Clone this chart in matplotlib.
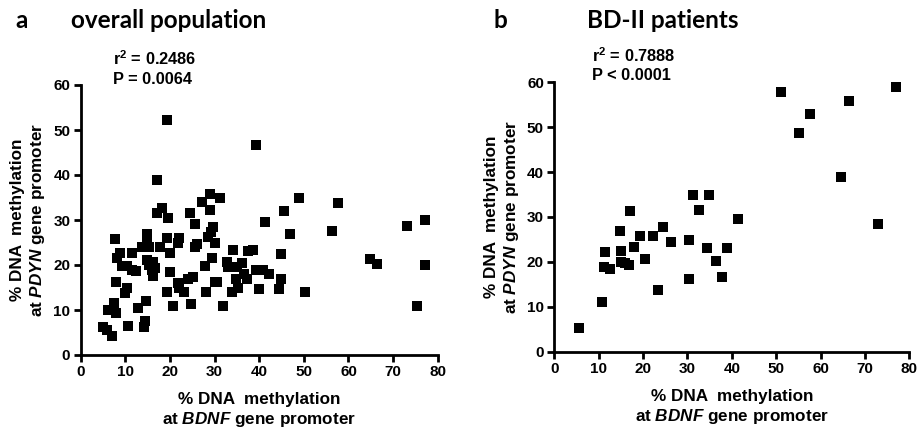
import matplotlib
matplotlib.use("Agg")
import matplotlib.pyplot as plt

plt.rcParams['font.family'] = ['Liberation Sans', 'DejaVu Sans']
plt.rcParams['mathtext.fontset'] = 'custom'
plt.rcParams['mathtext.it'] = 'Liberation Sans:bold:italic'
plt.rcParams['mathtext.bf'] = 'Liberation Sans:bold'
plt.rcParams['mathtext.rm'] = 'Liberation Sans:bold'

# Panel a: overall population (BDNF %, PDYN %)
bdnf_all = [19.3, 17.0, 18.3, 17.0, 19.6, 7.6, 14.8, 14.9, 13.8, 15.3, 17.8, 19.3, 22.1, 21.9,
            24.5, 25.6, 26.0, 25.7, 27.1, 29.0, 29.0, 31.2, 29.7, 29.3, 28.6, 30.2, 29.5, 27.8,
            30.0, 30.5, 28.1, 31.9, 8.8, 8.1, 9.2, 10.3, 11.6, 11.4, 12.4, 7.9, 10.3, 9.9, 7.5,
            6.2, 7.8, 5.1, 5.8, 7.1, 10.7, 12.9, 14.6, 14.4, 14.2, 14.9, 15.4, 16.3, 16.6, 15.9,
            16.3, 20.0, 20.0, 19.3, 20.7, 21.9, 22.1, 23.1, 24.1, 25.1, 24.7, 32.7, 33.1, 34.2,
            35.0, 36.1, 34.8, 35.3, 34.0, 36.5, 37.2, 37.4, 38.5, 39.3, 40.0,
            39.2, 48.9, 57.6, 45.6, 41.2, 47.0, 56.3, 73.1, 77.2, 44.9, 40.8, 42.1, 44.8,
            44.4, 50.2, 64.8, 66.5, 77.2, 75.3]
pdyn_all = [52.2, 39.0, 32.6, 31.6, 30.4, 25.8, 27.0, 25.2, 24.1, 24.1, 24.1, 25.9, 25.9, 24.8,
            31.6, 29.1, 24.6, 23.9, 33.9, 35.8, 32.2, 35.0, 28.5, 27.4, 26.3, 25.0, 21.5, 19.8,
            16.3, 16.3, 13.9, 10.9, 22.6, 21.5, 19.8, 19.8, 22.6, 19.0, 18.7, 16.3, 14.8, 13.7,
            11.6, 10.0, 9.3, 6.3, 5.6, 4.3, 6.5, 10.4, 11.9, 7.6, 6.3, 21.1, 20.0, 20.7, 19.3,
            18.9, 17.6, 22.6, 18.5, 13.9, 10.9, 16.1, 14.8, 13.9, 17.0, 17.3, 11.3, 20.7, 19.6,
            23.3, 19.6, 20.4, 17.0, 14.8, 13.9, 18.1, 16.8, 23.1, 23.3, 19.0, 14.6,
            46.7, 34.8, 33.7, 32.1, 29.6, 26.8, 27.6, 28.7, 29.9, 22.4, 19.0, 18.1, 17.0,
            14.7, 13.9, 21.3, 20.2, 20.1, 10.9]

# Panel b: BD-II patients
bdnf_bd2 = [5.6, 10.7, 11.5, 11.3, 12.5, 14.7, 15.1, 15.1, 16.0, 16.8, 17.0, 17.9, 19.2, 20.4,
            22.3, 23.3, 24.5, 26.2, 30.3, 30.3, 31.3, 32.6, 34.9, 34.5, 36.4, 39.0, 37.9, 41.3,
            51.1, 55.2, 57.6, 66.4, 64.6, 73.0, 77.1]
pdyn_bd2 = [5.3, 11.0, 22.2, 18.8, 18.4, 26.9, 22.4, 20.0, 19.7, 19.3, 31.4, 23.4, 25.8, 20.6,
            25.8, 13.7, 27.7, 24.4, 24.9, 16.2, 34.9, 31.6, 34.9, 23.2, 20.2, 23.2, 16.6, 29.5,
            57.9, 48.8, 52.9, 55.9, 38.9, 28.5, 58.9]

xticks = [0, 10, 20, 30, 40, 50, 60, 70, 80]
yticks = [0, 10, 20, 30, 40, 50, 60]

W, H = 921, 430
fig = plt.figure(figsize=(W / 100, H / 100), dpi=100)


def px_axes(x0, x1, y0, y1):
    return fig.add_axes([x0 / W, (H - y0) / H, (x1 - x0) / W, (y0 - y1) / H])


def style(ax, wpx, hpx):
    ax.set_xlim(0, 80)
    ax.set_ylim(0, 60)
    ax.set_xticks(xticks)
    ax.set_yticks(yticks)
    for s in ['top', 'right']:
        ax.spines[s].set_visible(False)
    for s in ['left', 'bottom']:
        ax.spines[s].set_linewidth(2.0)
    ax.tick_params(direction='out', length=5, width=2.0, labelsize=11, pad=2.5)
    for lab in ax.get_xticklabels() + ax.get_yticklabels():
        lab.set_fontweight('bold')
    ax.set_xlabel('% DNA  methylation\nat $\\mathit{BDNF}$ gene promoter', fontsize=12.3,
                  fontweight='bold', linespacing=1.22)
    ax.set_ylabel('% DNA  methylation\nat $\\mathit{PDYN}$ gene promoter', fontsize=12.3,
                  fontweight='bold', linespacing=1.22)
    ax.xaxis.set_label_coords(0.5, -(392 - 355) / hpx)
    ax.yaxis.set_label_coords(-(80.7 - 47) / wpx, 0.5)


axa = px_axes(80.7, 437.7, 355, 85)
axa.scatter(bdnf_all, pdyn_all, marker='s', s=42, color='black', linewidths=0, clip_on=False)
style(axa, 357, 270)

axb = px_axes(554.3, 909.3, 351.7, 82.3)
axb.scatter(bdnf_bd2, pdyn_bd2, marker='s', s=42, color='black', linewidths=0, clip_on=False)
style(axb, 355, 269.4)

title_font = ['Lato', 'DejaVu Sans']
ty = 1 - 28 / H
fig.text(15 / W, ty, 'a', fontsize=17.5, fontweight='bold', family=title_font, va='baseline')
fig.text(71 / W, ty, 'overall population', fontsize=17.5, fontweight='bold',
         family=title_font, va='baseline')
fig.text(493 / W, ty, 'b', fontsize=17.5, fontweight='bold', family=title_font, va='baseline')
fig.text(587 / W, ty, 'BD-II patients', fontsize=17.5, fontweight='bold',
         family=title_font, va='baseline')

fig.text(113 / W, 1 - 59 / H, 'r$^{\\mathbf{2}}$ = 0.2486', fontsize=11.8, fontweight='bold', va='center')
fig.text(113 / W, 1 - 79 / H, 'P = 0.0064', fontsize=11.8, fontweight='bold', va='center')
fig.text(592 / W, 1 - 56 / H, 'r$^{\\mathbf{2}}$ = 0.7888', fontsize=11.8, fontweight='bold', va='center')
fig.text(592 / W, 1 - 75 / H, 'P < 0.0001', fontsize=11.8, fontweight='bold', va='center')

fig.savefig('out.png', dpi=100, facecolor='white')
